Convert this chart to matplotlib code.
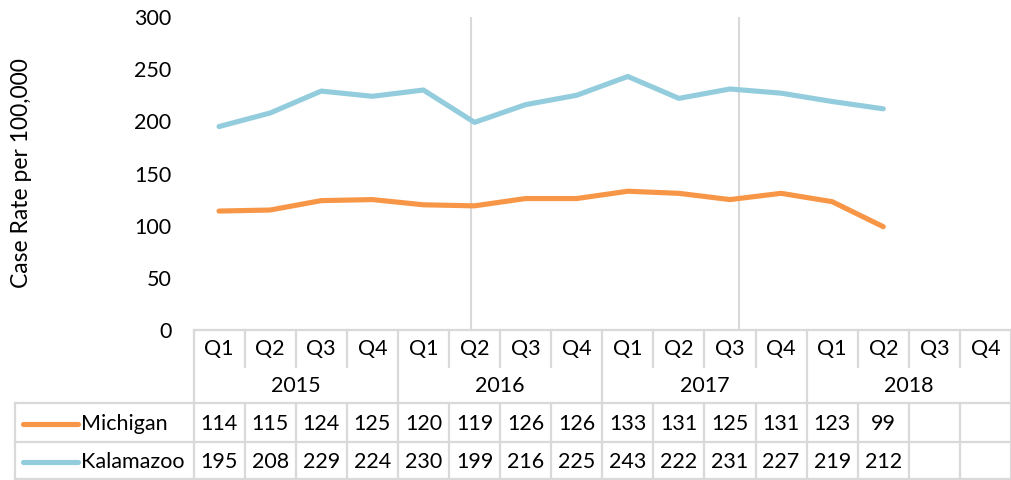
import numpy as np
import matplotlib
matplotlib.use("Agg")
import matplotlib.pyplot as plt
from matplotlib import transforms

plt.rcParams['font.family'] = ['Lato', 'DejaVu Sans']

quarters = ['Q1', 'Q2', 'Q3', 'Q4'] * 4
years = ['2015', '2016', '2017', '2018']
michigan = [114, 115, 124, 125, 120, 119, 126, 126, 133, 131, 125, 131, 123, 99, None, None]
kalamazoo = [195, 208, 229, 224, 230, 199, 216, 225, 243, 222, 231, 227, 219, 212, None, None]
series_names = ['Michigan', 'Kalamazoo']
series_colors = ['#F79646', '#93CDDD']
marker_lines = [4.93, 10.18]

W, H = 1011, 480
fig = plt.figure(figsize=(W / 100, H / 100), dpi=100)

left, right, top, bottom = 193.5, 1011, 17, 330
ax = fig.add_axes([left / W, 1 - bottom / H, (right - left) / W, (bottom - top) / H])
ax.set_xlim(-0.5, 15.5)
ax.set_ylim(0, 300)
for s in ax.spines.values():
    s.set_visible(False)
ax.set_xticks([])
ax.set_yticks(range(0, 301, 50))
ax.tick_params(axis='y', length=0, pad=16, labelsize=15.5, colors='#000000')
ax.set_ylabel('Case Rate per 100,000', fontsize=16.5)
ax.yaxis.set_label_coords(-0.198, 0.5)

x = np.arange(16)
for vals, c in zip([michigan, kalamazoo], series_colors):
    v = np.array([np.nan if a is None else a for a in vals], dtype=float)
    ax.plot(x, v, color=c, lw=3.7, solid_capstyle='round', solid_joinstyle='round', zorder=3)

for xv in marker_lines:
    ax.axvline(xv, color='#D9D9D9', lw=1.5, zorder=1)

# overlay for the data table, y in pixels
ov = fig.add_axes([0, 0, 1, 1])
ov.set_xlim(0, W)
ov.set_ylim(H, 0)
ov.axis('off')
tr = transforms.blended_transform_factory(ax.transData, ov.transData)

grid_c = '#D9D9D9'
glw = 1.6
y_top, y_q, y_yr, y_r1, y_r2 = 330, 367, 403, 442, 479

# horizontal lines
ov.plot([left, W], [y_top, y_top], color=grid_c, lw=glw)
ov.plot([15, W], [y_yr, y_yr], color=grid_c, lw=glw)
ov.plot([15, W], [y_r1, y_r1], color=grid_c, lw=glw)
ov.plot([15, W], [y_r2, y_r2], color=grid_c, lw=glw)
ov.plot([15, 15], [y_yr, y_r2], color=grid_c, lw=glw)

bounds = np.arange(-0.5, 16, 1.0)
for b in bounds:
    ax_b = int(round(b + 0.5))
    if ax_b % 4 == 0:
        ov.plot([b, b], [y_top, y_r2], color=grid_c, lw=glw, transform=tr)
    else:
        ov.plot([b, b], [y_top, y_q], color=grid_c, lw=glw, transform=tr)
        ov.plot([b, b], [y_yr, y_r2], color=grid_c, lw=glw, transform=tr)

fs = 15.5
for i, q in enumerate(quarters):
    ov.text(i, (y_top + y_q) / 2 + 1, q, transform=tr, ha='center', va='center', fontsize=fs)
for j, yr in enumerate(years):
    ov.text(j * 4 + 1.5, (y_q + y_yr) / 2 + 1, yr, transform=tr, ha='center', va='center', fontsize=fs)

rows = [(y_yr, y_r1), (y_r1, y_r2)]
for vals, name, c, (ya, yb) in zip([michigan, kalamazoo], series_names, series_colors, rows):
    yc = (ya + yb) / 2 + 1
    ov.plot([23, 78], [yc, yc], color=c, lw=3.7, solid_capstyle='round')
    ov.text(81, yc, name, ha='left', va='center', fontsize=fs)
    for i, v in enumerate(vals):
        if v is not None:
            ov.text(i, yc, str(v), transform=tr, ha='center', va='center', fontsize=fs)

fig.savefig('out.png', dpi=100)
